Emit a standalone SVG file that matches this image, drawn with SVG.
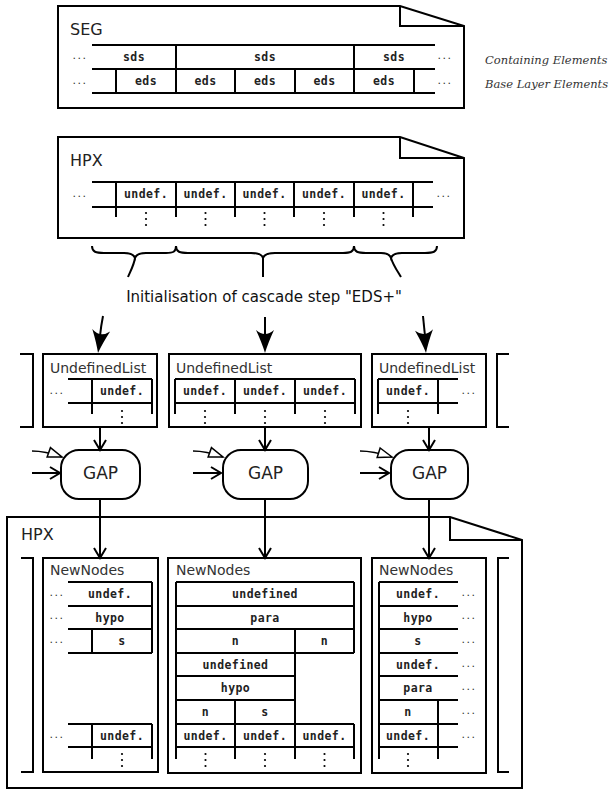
<svg xmlns="http://www.w3.org/2000/svg" xmlns:xlink="http://www.w3.org/1999/xlink" width="616" height="790" viewBox="0 0 616 790">
  <style>
    .doc { fill: #fff; stroke: #000; stroke-width: 2; stroke-linejoin: miter; }
    .box { fill: #fff; stroke: #000; stroke-width: 2; }
    .ln { fill: none; stroke: #000; stroke-width: 2; }
    .thin { fill: none; stroke: #000; stroke-width: 1.6; }
    .cell { font-family: "DejaVu Sans Mono", "Liberation Mono", monospace; font-weight: bold; font-size: 11.5px; letter-spacing: 0.4px; text-anchor: middle; fill: #222; }
    .title { font-family: "DejaVu Sans", "Liberation Sans", sans-serif; font-size: 14px; fill: #333; }
    .doctitle { font-family: "DejaVu Sans", "Liberation Sans", sans-serif; font-size: 16px; fill: #222; }
    .ell { font-family: "DejaVu Sans", "Liberation Sans", sans-serif; font-size: 11px; letter-spacing: 1.5px; text-anchor: middle; fill: #333; }
    .legend { font-family: "DejaVu Serif", "Liberation Serif", serif; font-style: italic; font-size: 11.5px; fill: #333; }
    .caption { font-family: "DejaVu Sans", "Liberation Sans", sans-serif; font-size: 15px; text-anchor: middle; fill: #111; }
    .gaptxt { font-family: "DejaVu Sans", "Liberation Sans", sans-serif; font-size: 17px; text-anchor: middle; fill: #222; }
    .gap { fill: #fff; stroke: #000; stroke-width: 2; }
  </style>
  <defs>
    <marker id="chev" markerUnits="userSpaceOnUse" markerWidth="14" markerHeight="14" viewBox="-12 -7 14 14" refX="0" refY="0" orient="auto" overflow="visible">
      <path d="M-10,-6 L0,0 L-10,6" fill="none" stroke="#000" stroke-width="2"/>
    </marker>
    <marker id="hollow" markerUnits="userSpaceOnUse" markerWidth="18" markerHeight="14" viewBox="-16 -7 18 14" refX="0" refY="0" orient="auto" overflow="visible">
      <path d="M-14,-5 L0,0 L-14,5 Z" fill="#fff" stroke="#000" stroke-width="1.5"/>
    </marker>
    <g id="vd">
      <circle cx="0" cy="0" r="1.1"/>
      <circle cx="0" cy="6" r="1.1"/>
      <circle cx="0" cy="12" r="1.1"/>
    </g>
    <path id="bighead" d="M0,0 Q-3,-10 -9,-23 Q0,-15 9,-23 Q3,-10 0,0 Z"/>
  </defs>

  <!-- SEG document: sds / eds layers -->
  <g id="seg">
    <path class="doc" d="M58,6 H400 L464,26 V108 H58 Z"/>
    <path class="ln" d="M400,6 V26 H464"/>
    <text class="doctitle" x="70" y="35">SEG</text>
    <path class="ln" d="M92,45 H435 M92,69 H435 M92,93 H435"/>
    <path class="ln" d="M176,45 V69 M354,45 V69"/>
    <path class="ln" d="M116,69 V93 M176,69 V93 M235,69 V93 M295,69 V93 M354,69 V93 M414,69 V93"/>
    <text class="cell" x="134" y="61">sds</text>
    <text class="cell" x="265" y="61">sds</text>
    <text class="cell" x="394" y="61">sds</text>
    <text class="cell" x="146" y="85">eds</text>
    <text class="cell" x="205.5" y="85">eds</text>
    <text class="cell" x="265" y="85">eds</text>
    <text class="cell" x="324.5" y="85">eds</text>
    <text class="cell" x="384" y="85">eds</text>
    <text class="ell" x="80" y="59">...</text>
    <text class="ell" x="80" y="84">...</text>
    <text class="ell" x="445" y="59">...</text>
    <text class="ell" x="445" y="84">...</text>
  </g>

  <g id="legend">
    <text class="legend" x="485" y="64">Containing Elements</text>
    <text class="legend" x="485" y="88">Base Layer Elements</text>
  </g>

  <!-- HPX document before the cascade step -->
  <g id="hpx-in">
    <path class="doc" d="M58,137 H400 L464,158 V238 H58 Z"/>
    <path class="ln" d="M400,137 V158 H464"/>
    <text class="doctitle" x="70" y="166">HPX</text>
    <path class="ln" d="M92,182 H433 M92,207 H433"/>
    <path class="ln" d="M116,182 V217 M176,182 V217 M235,182 V217 M294,182 V217 M354,182 V217 M413,182 V217"/>
    <text class="cell" x="146" y="198">undef.</text>
    <text class="cell" x="205.5" y="198">undef.</text>
    <text class="cell" x="264.5" y="198">undef.</text>
    <text class="cell" x="324" y="198">undef.</text>
    <text class="cell" x="383.5" y="198">undef.</text>
    <use xlink:href="#vd" x="146" y="213"/>
    <use xlink:href="#vd" x="205.5" y="213"/>
    <use xlink:href="#vd" x="264.5" y="213"/>
    <use xlink:href="#vd" x="324" y="213"/>
    <use xlink:href="#vd" x="383.5" y="213"/>
    <text class="ell" x="80" y="197">...</text>
    <text class="ell" x="444" y="197">...</text>
  </g>

  <g id="caption">
    <text class="caption" x="264" y="302">Initialisation of cascade step "EDS+"</text>
  </g>

  <!-- Undefined lists handed to the three GAP instances -->
  <g id="ulist-1">
    <rect class="box" x="43" y="354" width="114" height="73"/>
    <text class="title" x="50" y="373">UndefinedList</text>
    <path class="ln" d="M68,379 H152 M68,403 H152 M92,379 V414 M152,379 V414"/>
    <text class="cell" x="122" y="395">undef.</text>
    <text class="ell" x="57" y="394">...</text>
    <use xlink:href="#vd" x="122" y="411"/>
  </g>
  <g id="ulist-2">
    <rect class="box" x="169" y="354" width="192" height="73"/>
    <text class="title" x="176" y="373">UndefinedList</text>
    <path class="ln" d="M175,379 H355 M175,403 H355 M175,379 V414 M235,379 V414 M295,379 V414 M355,379 V414"/>
    <text class="cell" x="205" y="395">undef.</text>
    <text class="cell" x="265" y="395">undef.</text>
    <text class="cell" x="325" y="395">undef.</text>
    <use xlink:href="#vd" x="205" y="411"/>
    <use xlink:href="#vd" x="265" y="411"/>
    <use xlink:href="#vd" x="325" y="411"/>
  </g>
  <g id="ulist-3">
    <rect class="box" x="372" y="354" width="114" height="73"/>
    <text class="title" x="379" y="373">UndefinedList</text>
    <path class="ln" d="M378,379 H458 M378,403 H458 M378,379 V414 M438,379 V414"/>
    <text class="cell" x="408" y="395">undef.</text>
    <text class="ell" x="469" y="394">...</text>
    <use xlink:href="#vd" x="408" y="411"/>
  </g>
  <g id="brackets-top">
    <path class="ln" d="M20,354 H33 V427 H20"/>
    <path class="ln" d="M509,354 H497 V427 H509"/>
  </g>

  <!-- GAP processes -->
  <g id="gap-1">
    <rect class="gap" x="61" y="450" width="79" height="49" rx="18" ry="18"/>
    <text class="gaptxt" x="100.5" y="479">GAP</text>
  </g>
  <g id="gap-2">
    <rect class="gap" x="223" y="450" width="85" height="49" rx="18" ry="18"/>
    <text class="gaptxt" x="265.5" y="479">GAP</text>
  </g>
  <g id="gap-3">
    <rect class="gap" x="391" y="450" width="77" height="49" rx="18" ry="18"/>
    <text class="gaptxt" x="429.5" y="479">GAP</text>
  </g>

  <!-- HPX document after the cascade step -->
  <g id="hpx-out">
    <path class="doc" d="M7,517 H450 L522,540 V788 H7 Z"/>
    <path class="ln" d="M450,517 V540 H522"/>
    <text class="doctitle" x="21" y="540">HPX</text>
    <path class="ln" d="M21,558 H33 V772 H21"/>
    <path class="ln" d="M509,558 H498 V772 H509"/>
  </g>

  <g id="newnodes-1">
    <rect class="box" x="43" y="558" width="115" height="214"/>
    <text class="title" x="50" y="575">NewNodes</text>
    <path class="ln" d="M68,582 H152 M68,606 H152 M68,629 H152 M68,653 H152 M152,582 V653 M92,629 V653"/>
    <text class="cell" x="110" y="598">undef.</text>
    <text class="cell" x="110" y="622">hypo</text>
    <text class="cell" x="122" y="645">s</text>
    <text class="ell" x="57" y="596">...</text>
    <text class="ell" x="57" y="619">...</text>
    <text class="ell" x="57" y="643">...</text>
    <path class="ln" d="M68,724 H152 M68,747 H152 M92,724 V759 M152,724 V759"/>
    <text class="cell" x="122" y="740">undef.</text>
    <text class="ell" x="57" y="738">...</text>
    <use xlink:href="#vd" x="122" y="754"/>
  </g>

  <g id="newnodes-2">
    <rect class="box" x="168" y="558" width="193" height="215"/>
    <text class="title" x="176" y="575">NewNodes</text>
    <path class="ln" d="M176,582 H354 M176,606 H354 M176,629 H354 M176,653 H354 M176,676 H295 M176,700 H295 M176,724 H354 M176,747 H354"/>
    <path class="ln" d="M176,582 V759 M354,582 V653 M354,724 V759 M295,629 V759 M235,700 V759"/>
    <text class="cell" x="265" y="598">undefined</text>
    <text class="cell" x="265" y="622">para</text>
    <text class="cell" x="235.5" y="645">n</text>
    <text class="cell" x="324.5" y="645">n</text>
    <text class="cell" x="235.5" y="669">undefined</text>
    <text class="cell" x="235.5" y="692">hypo</text>
    <text class="cell" x="205.5" y="716">n</text>
    <text class="cell" x="265" y="716">s</text>
    <text class="cell" x="205.5" y="740">undef.</text>
    <text class="cell" x="265" y="740">undef.</text>
    <text class="cell" x="324.5" y="740">undef.</text>
    <use xlink:href="#vd" x="205.5" y="754"/>
    <use xlink:href="#vd" x="265" y="754"/>
    <use xlink:href="#vd" x="324.5" y="754"/>
  </g>

  <g id="newnodes-3">
    <rect class="box" x="372" y="558" width="114" height="215"/>
    <text class="title" x="379" y="575">NewNodes</text>
    <path class="ln" d="M379,582 H458 M379,606 H458 M379,629 H458 M379,653 H458 M379,676 H458 M379,700 H458 M379,724 H458 M379,747 H458"/>
    <path class="ln" d="M379,582 V759 M438,700 V759"/>
    <text class="cell" x="418" y="598">undef.</text>
    <text class="cell" x="418" y="622">hypo</text>
    <text class="cell" x="418" y="645">s</text>
    <text class="cell" x="418" y="669">undef.</text>
    <text class="cell" x="418" y="692">para</text>
    <text class="cell" x="408" y="716">n</text>
    <text class="cell" x="408" y="740">undef.</text>
    <text class="ell" x="469" y="596">...</text>
    <text class="ell" x="469" y="619">...</text>
    <text class="ell" x="469" y="643">...</text>
    <text class="ell" x="469" y="667">...</text>
    <text class="ell" x="469" y="690">...</text>
    <text class="ell" x="469" y="714">...</text>
    <text class="ell" x="469" y="738">...</text>
    <use xlink:href="#vd" x="408" y="754"/>
  </g>

  <!-- Connectors: braces, initialisation arrows, flow arrows -->
  <g id="connectors">
    <path class="ln" d="M92,246 C92,252 96,253 104,253 L124,253 C131,253 134,255 135,258 C136,255 139,253 146,253 L166,253 C173,253 176,252 176,246"/>
    <path class="ln" d="M135,258 C134,265 130,272 128,277"/>
    <path class="ln" d="M176,246 C176,252 180,253 188,253 L251,253 C258,253 262,255 263,258 C264,255 268,253 275,253 L343,253 C350,253 354,252 354,246"/>
    <path class="ln" d="M263,258 V277"/>
    <path class="ln" d="M354,246 C354,252 358,253 366,253 L381,253 C387,253 390,255 391,258 C392,255 395,253 402,253 L425,253 C433,253 437,252 437,246"/>
    <path class="ln" d="M391,258 C393,265 398,272 401,277"/>

    <path class="ln" d="M103,316 Q101,326 100,336"/>
    <use xlink:href="#bighead" transform="translate(98,353) rotate(8)"/>
    <path class="ln" d="M265,317 V336"/>
    <use xlink:href="#bighead" transform="translate(265,353)"/>
    <path class="ln" d="M423,316 Q424,326 425,336"/>
    <use xlink:href="#bighead" transform="translate(426,353) rotate(-5)"/>

    <path class="ln" d="M100,427 V450" marker-end="url(#chev)"/>
    <path class="ln" d="M265,427 V450" marker-end="url(#chev)"/>
    <path class="ln" d="M429,427 V450" marker-end="url(#chev)"/>

    <path class="ln" d="M100,499 V558" marker-end="url(#chev)"/>
    <path class="ln" d="M265,499 V558" marker-end="url(#chev)"/>
    <path class="ln" d="M429,499 V558" marker-end="url(#chev)"/>

    <path class="thin" d="M32,451 Q45,451 62,457" marker-end="url(#hollow)"/>
    <path class="ln" d="M32,473 H60" marker-end="url(#chev)"/>
    <path class="thin" d="M193,451 Q206,451 223,457" marker-end="url(#hollow)"/>
    <path class="ln" d="M193,473 H221" marker-end="url(#chev)"/>
    <path class="thin" d="M360,451 Q373,451 392,457" marker-end="url(#hollow)"/>
    <path class="ln" d="M360,473 H389" marker-end="url(#chev)"/>
  </g>
</svg>
